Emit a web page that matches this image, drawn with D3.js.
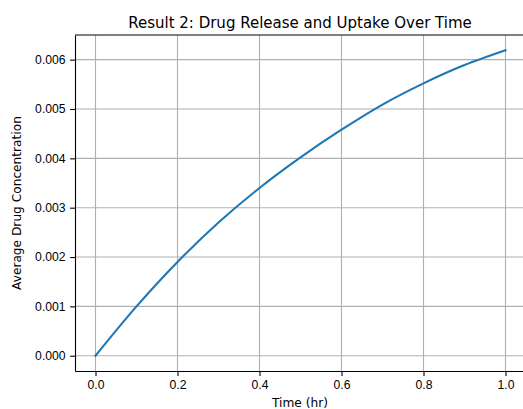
<!DOCTYPE html>
<html>
<head>
<meta charset="utf-8">
<script src="https://cdn.jsdelivr.net/npm/d3@7"></script>
<style>
  body { margin: 0; background: #fff; }
  svg { display: block; font-family: "DejaVu Sans", sans-serif; }
  .grid line { stroke: #b0b0b0; stroke-width: 1.1; }
  .axis path, .axis line { stroke: #000; stroke-width: 1.1; }
  .axis text { fill: #000; font-size: 12.2px; }
</style>
</head>
<body>
<div id="chart"></div>
<script>
// values
const times = [0, 0.1, 0.2, 0.3, 0.4, 0.5, 0.6, 0.7, 0.8, 0.9, 1.0];
const concentration = [0, 0.001, 0.0019, 0.0027, 0.0034, 0.00402, 0.00458, 0.00509, 0.00552, 0.00589, 0.00619];
const xTicks = [0, 0.2, 0.4, 0.6, 0.8, 1.0];
const yTicks = [0, 0.001, 0.002, 0.003, 0.004, 0.005, 0.006];

const width = 523, height = 409;
const margin = { top: 35, right: -3, bottom: 38, left: 75 };

const svg = d3.select("#chart")
  .append("svg")
  .attr("width", width)
  .attr("height", height);

const data = times.map((t, i) => ({ t: t, v: concentration[i] }));

// matplotlib style 5% margins
const yMax = d3.max(concentration);
const x = d3.scaleLinear()
  .domain([-0.05, 1.05])
  .range([margin.left, width - margin.right]);
const y = d3.scaleLinear()
  .domain([-0.05 * yMax, 1.05 * yMax])
  .range([height - margin.bottom, margin.top]);

// grid
const grid = svg.append("g").attr("class", "grid");
grid.selectAll(".vx")
  .data(xTicks)
  .join("line")
  .attr("x1", d => x(d)).attr("x2", d => x(d))
  .attr("y1", margin.top).attr("y2", height - margin.bottom);
grid.selectAll(".hy")
  .data(yTicks)
  .join("line")
  .attr("x1", margin.left).attr("x2", width - margin.right)
  .attr("y1", d => y(d)).attr("y2", d => y(d));

// line
svg.append("path")
  .datum(data)
  .attr("fill", "none")
  .attr("stroke", "#1f77b4")
  .attr("stroke-width", 2.1)
  .attr("stroke-linecap", "square")
  .attr("d", d3.line()
    .x(d => x(d.t))
    .y(d => y(d.v))
    .curve(d3.curveCatmullRom.alpha(0.5)));

// axes
svg.append("g")
  .attr("class", "axis")
  .attr("transform", `translate(0,${height - margin.bottom})`)
  .call(d3.axisBottom(x).tickValues(xTicks).tickSize(4.9).tickPadding(4.5).tickSizeOuter(0)
    .tickFormat(d3.format(".1f")));

svg.append("g")
  .attr("class", "axis")
  .attr("transform", `translate(${margin.left},0)`)
  .call(d3.axisLeft(y).tickValues(yTicks).tickSize(4.9).tickPadding(4.5).tickSizeOuter(0)
    .tickFormat(d3.format(".3f")));

// top spine
svg.append("line")
  .attr("x1", margin.left).attr("x2", width)
  .attr("y1", margin.top).attr("y2", margin.top)
  .attr("stroke", "#000").attr("stroke-width", 1.1);

// title and labels
svg.append("text")
  .attr("x", 300)
  .attr("y", 28)
  .attr("text-anchor", "middle")
  .style("font-size", "15px")
  .text("Result 2: Drug Release and Uptake Over Time");

svg.append("text")
  .attr("x", 300)
  .attr("y", 407)
  .attr("text-anchor", "middle")
  .style("font-size", "12.2px")
  .text("Time (hr)");

svg.append("text")
  .attr("transform", "rotate(-90)")
  .attr("x", -203)
  .attr("y", 21)
  .attr("text-anchor", "middle")
  .style("font-size", "12.2px")
  .text("Average Drug Concentration");
</script>
</body>
</html>
